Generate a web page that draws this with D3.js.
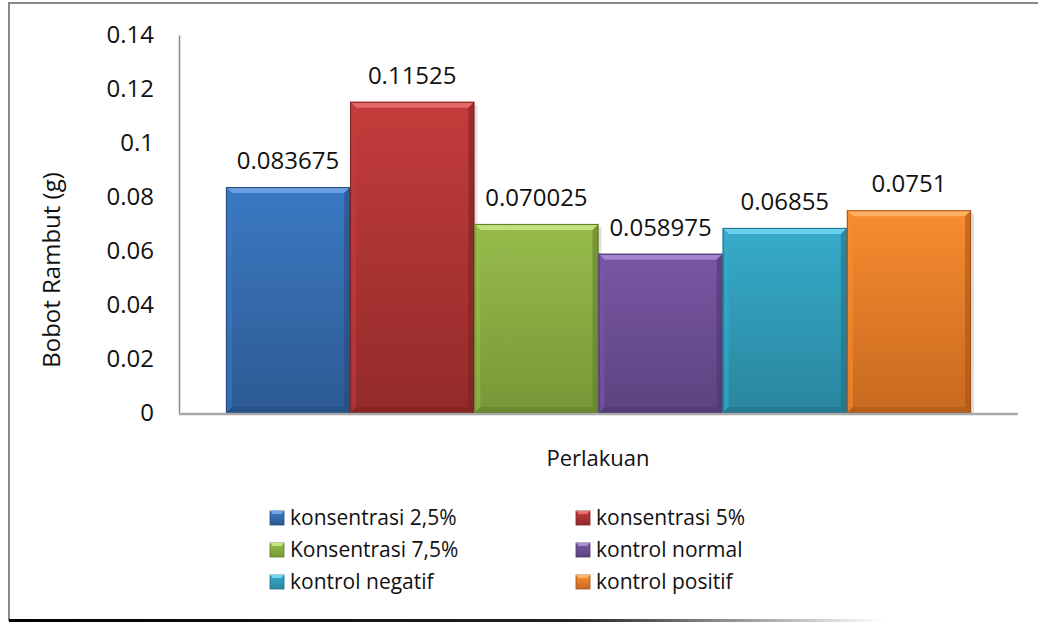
<!DOCTYPE html>
<html>
<head>
<meta charset="utf-8">
<script src="https://cdn.jsdelivr.net/npm/d3@7"></script>
<style>
  html, body { margin: 0; padding: 0; background: #fff; }
  svg text { font-family: 'Open Sans', sans-serif; fill: #111; }
</style>
</head>
<body>
<div class="container"></div>
<script>
const categories = ['konsentrasi 2,5%', 'konsentrasi 5%', 'Konsentrasi 7,5%', 'kontrol normal', 'kontrol negatif', 'kontrol positif'];
const values = [0.083675, 0.11525, 0.070025, 0.058975, 0.06855, 0.0751];
const labels = ['0.083675', '0.11525', '0.070025', '0.058975', '0.06855', '0.0751'];
const yTicks = [0, 0.02, 0.04, 0.06, 0.08, 0.1, 0.12, 0.14];
// face top, face bottom, light bevel, dark edge
const colors = [
  ['#3b79c3', '#2d5a93', '#72a6e6', '#234a7c'],
  ['#c43c3c', '#932a2a', '#ec7070', '#7a2020'],
  ['#97bc4c', '#779737', '#c6e784', '#5e7a28'],
  ['#7957a3', '#5d4381', '#a98dd4', '#4a346a'],
  ['#36abc9', '#2a86a0', '#72d8f2', '#206e84'],
  ['#f88c30', '#c8691f', '#ffb56a', '#a35218']
];

const width = 1038;
const height = 623;
const plot = { left: 179, right: 1018, top: 35, bottom: 413 };

const svg = d3
  .select('.container')
  .append('svg')
  .attr('width', width)
  .attr('height', height);

const defs = svg.append('defs');

colors.forEach((c, i) => {
  const g = defs
    .append('linearGradient')
    .attr('id', `face-${i}`)
    .attr('x1', 0).attr('y1', 0).attr('x2', 0).attr('y2', 1);
  g.append('stop').attr('offset', '0%').attr('stop-color', c[0]);
  g.append('stop').attr('offset', '100%').attr('stop-color', c[1]);
});

const fade = defs
  .append('linearGradient')
  .attr('id', 'fade')
  .attr('x1', 0).attr('y1', 0).attr('x2', 1).attr('y2', 0);
fade.append('stop').attr('offset', '0%').attr('stop-color', '#000');
fade.append('stop').attr('offset', '55%').attr('stop-color', '#222');
fade.append('stop').attr('offset', '85%').attr('stop-color', '#fff');

// chart frame
svg.append('line')
  .attr('x1', 9).attr('x2', width).attr('y1', 3).attr('y2', 3)
  .attr('stroke', '#8a8a8a').attr('stroke-width', 2);
svg.append('line')
  .attr('x1', 9).attr('x2', 9).attr('y1', 2).attr('y2', 621)
  .attr('stroke', '#8a8a8a').attr('stroke-width', 2);
svg.append('rect')
  .attr('x', 9).attr('y', 619).attr('width', width - 9).attr('height', 3)
  .attr('fill', 'url(#fade)');

const x = d3.scaleBand()
  .domain(categories)
  .range([plot.left, plot.right])
  .paddingInner(0)
  .paddingOuter(0.378);

const y = d3.scaleLinear()
  .domain([0, 0.14])
  .range([plot.bottom, plot.top]);

// y axis
const yAxis = svg.append('g')
  .attr('class', 'y-axis')
  .attr('transform', `translate(${plot.left}, 0)`)
  .call(d3.axisLeft(y).tickValues(yTicks).tickSize(0).tickPadding(25).tickFormat(d => String(d)));
yAxis.select('.domain').attr('stroke', '#8c8c8c').attr('stroke-width', 1.5);
yAxis.selectAll('text')
  .style('font-family', "'Open Sans', sans-serif")
  .style('font-size', '24px')
  .attr('fill', '#111');

// bars
const b = 6;
const bars = svg.selectAll('.bar')
  .data(categories)
  .enter()
  .append('g')
  .attr('class', 'bar');

bars.each(function(d, i) {
  const g = d3.select(this);
  const x0 = x(d);
  const x1 = x(d) + x.bandwidth();
  const y0 = y(values[i]);
  const y1 = y(0);
  const c = colors[i];
  // soft shadow on the right
  g.append('rect')
    .attr('x', x1).attr('y', y0 + 3)
    .attr('width', 3).attr('height', y1 - y0 - 3)
    .attr('fill', '#000').attr('opacity', 0.12);
  g.append('rect')
    .attr('x', x0).attr('y', y0)
    .attr('width', x1 - x0).attr('height', y1 - y0)
    .attr('fill', `url(#face-${i})`);
  // top bevel
  g.append('polygon')
    .attr('points', [[x0, y0], [x1, y0], [x1 - b, y0 + b], [x0 + b, y0 + b]].join(' '))
    .attr('fill', c[2]).attr('opacity', 0.85);
  // left bevel
  g.append('polygon')
    .attr('points', [[x0, y0], [x0 + b, y0 + b], [x0 + b, y1 - b], [x0, y1]].join(' '))
    .attr('fill', c[0]).attr('opacity', 0.6);
  // right bevel
  g.append('polygon')
    .attr('points', [[x1, y0], [x1 - b, y0 + b], [x1 - b, y1 - b], [x1, y1]].join(' '))
    .attr('fill', c[3]).attr('opacity', 0.55);
  // bottom bevel
  g.append('polygon')
    .attr('points', [[x0, y1], [x0 + b, y1 - b], [x1 - b, y1 - b], [x1, y1]].join(' '))
    .attr('fill', c[3]).attr('opacity', 0.5);
  g.append('rect')
    .attr('x', x0 + 0.5).attr('y', y0 + 0.5)
    .attr('width', x1 - x0 - 1).attr('height', y1 - y0 - 1)
    .attr('fill', 'none').attr('stroke', c[3]).attr('stroke-width', 1);
  g.append('text')
    .attr('x', (x0 + x1) / 2)
    .attr('y', y0 - 18)
    .attr('text-anchor', 'middle')
    .style('font-size', '24px')
    .text(labels[i]);
});

// x axis line
svg.append('line')
  .attr('x1', plot.left).attr('x2', plot.right)
  .attr('y1', plot.bottom + 1).attr('y2', plot.bottom + 1)
  .attr('stroke', '#a8a8a8').attr('stroke-width', 2.5);

// axis titles
svg.append('text')
  .attr('transform', `translate(60, ${(plot.top + plot.bottom) / 2 + 46}) rotate(-90)`)
  .attr('text-anchor', 'middle')
  .style('font-size', '24px')
  .text('Bobot Rambut (g)');

svg.append('text')
  .attr('x', 598)
  .attr('y', 466)
  .attr('text-anchor', 'middle')
  .style('font-size', '22px')
  .text('Perlakuan');

// legend
const legendCols = [270, 576];
const legendRows = [518, 550, 582];
const legend = svg.selectAll('.legend-item')
  .data(categories)
  .enter()
  .append('g')
  .attr('class', 'legend-item')
  .attr('transform', (d, i) => `translate(${legendCols[i % 2]}, ${legendRows[Math.floor(i / 2)]})`);

const s = 14;
const lb = 3;
legend.append('rect')
  .attr('x', 0).attr('y', -s / 2)
  .attr('width', s).attr('height', s)
  .attr('fill', (d, i) => `url(#face-${i})`)
  .attr('stroke', (d, i) => colors[i][3]).attr('stroke-width', 0.8);
legend.append('polygon')
  .attr('points', [[0, -s / 2], [s, -s / 2], [s - lb, -s / 2 + lb], [lb, -s / 2 + lb]].join(' '))
  .attr('fill', (d, i) => colors[i][2]);
legend.append('text')
  .attr('x', s + 6)
  .attr('y', 7)
  .style('font-size', '21px')
  .text(d => d);
</script>
</body>
</html>
